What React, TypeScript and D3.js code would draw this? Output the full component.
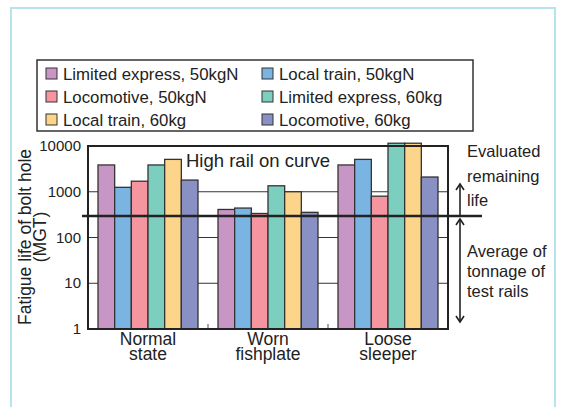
import { useEffect, useRef } from 'react';
import * as d3 from 'd3';

const groups = ['Normal state', 'Worn fishplate', 'Loose sleeper'];
const groupLines = [['Normal', 'state'], ['Worn', 'fishplate'], ['Loose', 'sleeper']];
const seriesNames = [
  'Limited express, 50kgN',
  'Local train, 50kgN',
  'Locomotive, 50kgN',
  'Limited express, 60kg',
  'Local train, 60kg',
  'Locomotive, 60kg',
];
const colors = ['#c896c4', '#7ab4e2', '#f4959f', '#7ccfbf', '#fdd58a', '#8890c4'];

// values per group, series order: LE50, LT50, Loco50, LE60, LT60, Loco60
const normalState = [3850, 1250, 1700, 3850, 5100, 1800];
const wornFishplate = [410, 440, 335, 1350, 1000, 355];
const looseSleeper = [3850, 5100, 800, 11500, 11500, 2100];
const values = [normalState, wornFishplate, looseSleeper];

const yTicks = [1, 10, 100, 1000, 10000];
const averageTonnage = 295;

const FONT = 'Arial, "Liberation Sans", sans-serif';

export default function App() {
  const svgRef = useRef<SVGSVGElement>(null);

  useEffect(() => {
    if (!svgRef.current) return;
    const svg = d3.select(svgRef.current);
    svg.selectAll('*').remove();

    const left = 88, right = 448, top = 146, bottom = 329;

    const x0 = d3.scaleBand().domain(groups).range([left, right]).paddingInner(20 / 120).paddingOuter(10 / 120);
    const x1 = d3.scaleBand().domain(seriesNames).range([0, x0.bandwidth()]);
    const y = d3.scaleLog().domain([1, 10000]).range([bottom, top]);

    // outer frame
    svg.append('rect')
      .attr('x', 11).attr('y', 8).attr('width', 544).attr('height', 420)
      .attr('fill', '#fff').attr('stroke', '#b8e2ee').attr('stroke-width', 2);

    // legend
    const lg = svg.append('g');
    lg.append('rect')
      .attr('x', 37).attr('y', 60).attr('width', 436).attr('height', 71)
      .attr('fill', '#fff').attr('stroke', '#333').attr('stroke-width', 1.5);
    seriesNames.forEach((s, i) => {
      const col = i % 2, row = Math.floor(i / 2);
      const lx = col === 0 ? 46 : 262;
      const ly = 68 + row * 23;
      lg.append('rect')
        .attr('x', lx).attr('y', ly).attr('width', 11).attr('height', 11)
        .attr('fill', colors[i]).attr('stroke', '#333').attr('stroke-width', 1);
      lg.append('text')
        .attr('x', lx + 17).attr('y', ly + 12)
        .attr('font-family', FONT).attr('font-size', 16.8).attr('fill', '#222')
        .text(s);
    });

    // gridlines
    svg.append('g').selectAll('line').data(yTicks.slice(1, -1)).enter().append('line')
      .attr('x1', left).attr('x2', right)
      .attr('y1', d => y(d)).attr('y2', d => y(d))
      .attr('stroke', '#333').attr('stroke-width', 1);

    // small ticks between groups at bottom
    const seps = [
      (x0(groups[0])! + x0.bandwidth() + x0(groups[1])!) / 2,
      (x0(groups[1])! + x0.bandwidth() + x0(groups[2])!) / 2,
    ];
    svg.append('g').selectAll('line').data(seps).enter().append('line')
      .attr('x1', d => d).attr('x2', d => d)
      .attr('y1', bottom).attr('y2', bottom - 5)
      .attr('stroke', '#888').attr('stroke-width', 1.5);

    // bars
    groups.forEach((g, gi) => {
      svg.append('g').selectAll('rect').data(values[gi]).enter().append('rect')
        .attr('x', (_, i) => x0(g)! + x1(seriesNames[i])!)
        .attr('width', x1.bandwidth())
        .attr('y', d => y(d))
        .attr('height', d => bottom - y(d))
        .attr('fill', (_, i) => colors[i])
        .attr('stroke', '#333').attr('stroke-width', 1.3);
    });

    // plot frame
    svg.append('path')
      .attr('d', `M${left},${top}H${right}V${bottom}H${left}Z`)
      .attr('fill', 'none').attr('stroke', '#222').attr('stroke-width', 2);

    // y tick labels
    svg.append('g').selectAll('text').data(yTicks).enter().append('text')
      .attr('x', 81).attr('y', d => y(d) + 5)
      .attr('text-anchor', 'end')
      .attr('font-family', FONT).attr('font-size', 15).attr('fill', '#222')
      .text(d => String(d));

    // y title
    const yt = svg.append('text')
      .attr('transform', 'translate(31,237) rotate(-90)')
      .attr('text-anchor', 'middle')
      .attr('font-family', FONT).attr('font-size', 17.5).attr('fill', '#222');
    yt.append('tspan').attr('x', 0).attr('y', 0).text('Fatigue life of bolt hole');
    yt.append('tspan').attr('x', 0).attr('y', 15).text('(MGT)');

    // x labels
    groups.forEach((g, gi) => {
      const cx = x0(g)! + x0.bandwidth() / 2;
      groupLines[gi].forEach((t, li) => {
        svg.append('text')
          .attr('x', cx).attr('y', 345 + li * 15)
          .attr('text-anchor', 'middle')
          .attr('font-family', FONT).attr('font-size', 17.5).attr('fill', '#222')
          .text(t);
      });
    });

    // high rail label
    svg.append('text')
      .attr('x', 186).attr('y', 167)
      .attr('font-family', FONT).attr('font-size', 18.5).attr('fill', '#222')
      .text('High rail on curve');

    // average tonnage line
    const ya = y(averageTonnage);
    svg.append('line')
      .attr('x1', 82).attr('x2', 482).attr('y1', ya).attr('y2', ya)
      .attr('stroke', '#222').attr('stroke-width', 2.5);

    // arrows
    const ax = 460;
    const arrow = svg.append('g').attr('stroke', '#222').attr('stroke-width', 1.6).attr('fill', 'none');
    arrow.append('line').attr('x1', ax).attr('x2', ax).attr('y1', ya - 1).attr('y2', 184);
    arrow.append('path').attr('d', `M${ax - 4},${190}L${ax},${184}L${ax + 4},${190}`);
    arrow.append('line').attr('x1', ax).attr('x2', ax).attr('y1', ya + 3).attr('y2', 322);
    arrow.append('path').attr('d', `M${ax - 4},${ya + 9}L${ax},${ya + 3}L${ax + 4},${ya + 9}`);
    arrow.append('path').attr('d', `M${ax - 4},${316}L${ax},${322}L${ax + 4},${316}`);

    const rt = [
      ['Evaluated', 157], ['remaining', 182], ['life', 206],
      ['Average of', 257], ['tonnage of', 277], ['test rails', 297],
    ] as const;
    rt.forEach(([t, yy]) => {
      svg.append('text')
        .attr('x', 467).attr('y', yy)
        .attr('font-family', FONT).attr('font-size', 16.5).attr('fill', '#222')
        .text(t);
    });
  }, []);

  return (
    <svg
      ref={svgRef}
      width={561}
      height={407}
      style={{ position: 'absolute', left: 0, top: 0, background: '#fff' }}
    />
  );
}
